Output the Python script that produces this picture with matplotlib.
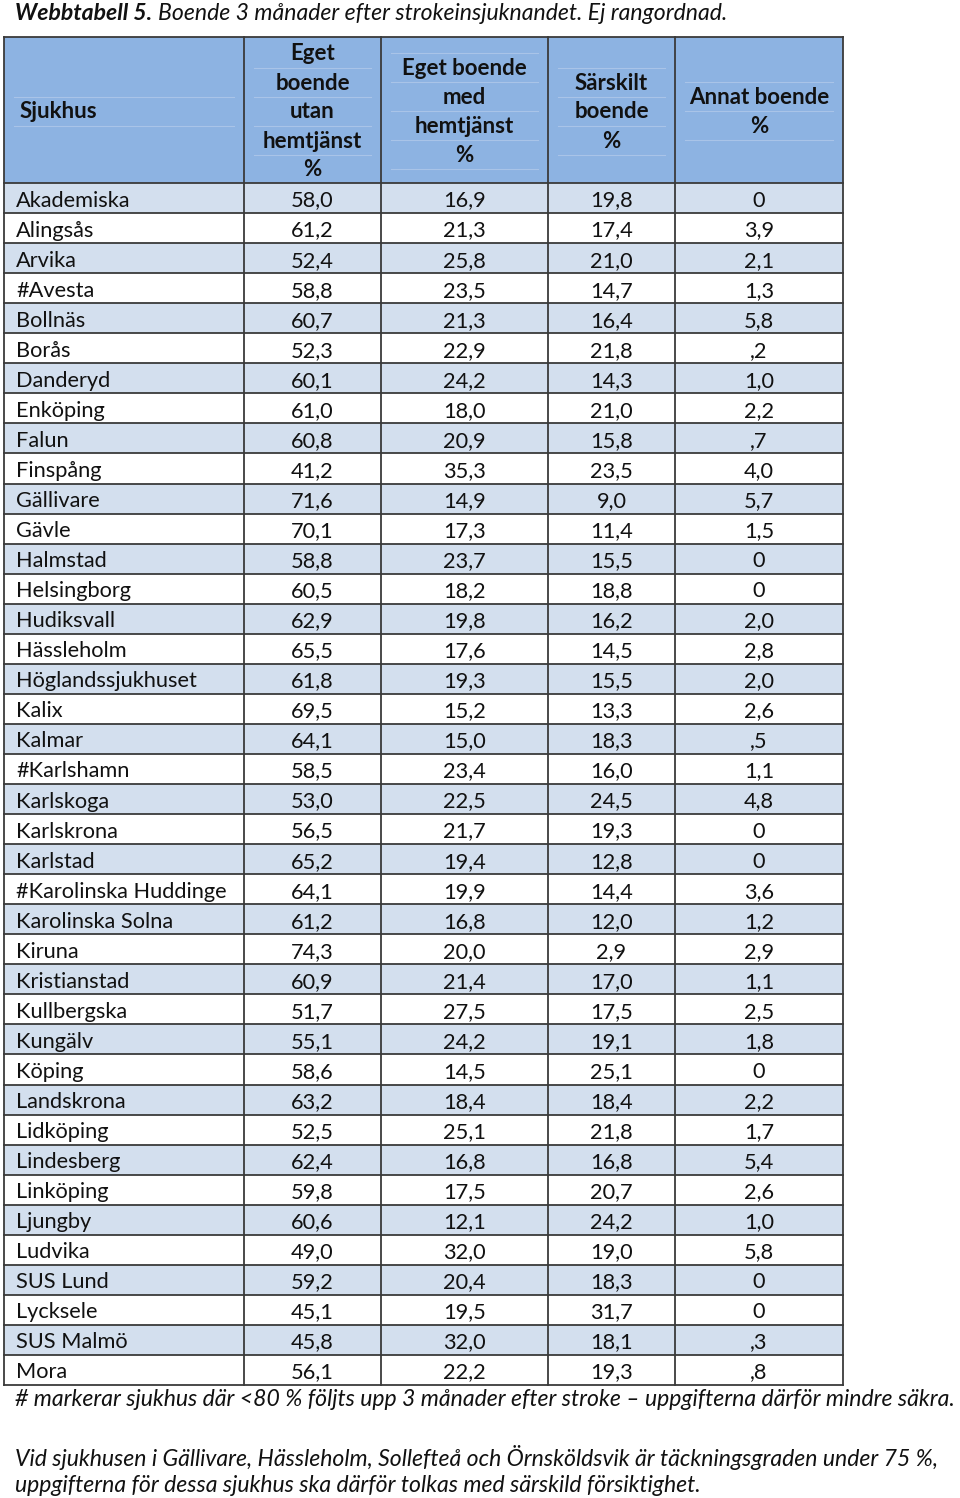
import matplotlib.pyplot as plt
from matplotlib.patches import Rectangle

sjukhus = ["Akademiska", "Alingsås", "Arvika", "#Avesta", "Bollnäs", "Borås", "Danderyd",
           "Enköping", "Falun", "Finspång", "Gällivare", "Gävle", "Halmstad", "Helsingborg",
           "Hudiksvall", "Hässleholm", "Höglandssjukhuset", "Kalix", "Kalmar", "#Karlshamn",
           "Karlskoga", "Karlskrona", "Karlstad", "#Karolinska Huddinge", "Karolinska Solna",
           "Kiruna", "Kristianstad", "Kullbergska", "Kungälv", "Köping", "Landskrona",
           "Lidköping", "Lindesberg", "Linköping", "Ljungby", "Ludvika", "SUS Lund",
           "Lycksele", "SUS Malmö", "Mora"]
eget_utan = [58.0, 61.2, 52.4, 58.8, 60.7, 52.3, 60.1, 61.0, 60.8, 41.2, 71.6, 70.1, 58.8, 60.5,
             62.9, 65.5, 61.8, 69.5, 64.1, 58.5, 53.0, 56.5, 65.2, 64.1, 61.2, 74.3, 60.9, 51.7,
             55.1, 58.6, 63.2, 52.5, 62.4, 59.8, 60.6, 49.0, 59.2, 45.1, 45.8, 56.1]
eget_med = [16.9, 21.3, 25.8, 23.5, 21.3, 22.9, 24.2, 18.0, 20.9, 35.3, 14.9, 17.3, 23.7, 18.2,
            19.8, 17.6, 19.3, 15.2, 15.0, 23.4, 22.5, 21.7, 19.4, 19.9, 16.8, 20.0, 21.4, 27.5,
            24.2, 14.5, 18.4, 25.1, 16.8, 17.5, 12.1, 32.0, 20.4, 19.5, 32.0, 22.2]
sarskilt = [19.8, 17.4, 21.0, 14.7, 16.4, 21.8, 14.3, 21.0, 15.8, 23.5, 9.0, 11.4, 15.5, 18.8,
            16.2, 14.5, 15.5, 13.3, 18.3, 16.0, 24.5, 19.3, 12.8, 14.4, 12.0, 2.9, 17.0, 17.5,
            19.1, 25.1, 18.4, 21.8, 16.8, 20.7, 24.2, 19.0, 18.3, 31.7, 18.1, 19.3]
annat = [0, 3.9, 2.1, 1.3, 5.8, 0.2, 1.0, 2.2, 0.7, 4.0, 5.7, 1.5, 0, 0,
         2.0, 2.8, 2.0, 2.6, 0.5, 1.1, 4.8, 0, 0, 3.6, 1.2, 2.9, 1.1, 2.5,
         1.8, 0, 2.2, 1.7, 5.4, 2.6, 1.0, 5.8, 0, 0, 0.3, 0.8]

headers = [["Sjukhus"],
           ["Eget", "boende", "utan", "hemtjänst", "%"],
           ["Eget boende", "med", "hemtjänst", "%"],
           ["Särskilt", "boende", "%"],
           ["Annat boende", "%"]]


def fmt(v):
    # swedish style, small numbers written without the leading zero
    if v == 0:
        return "0"
    s = f"{v:.1f}".replace(".", ",")
    if v < 1:
        s = s[1:]
    return s


plt.rcParams['font.family'] = ['Lato', 'DejaVu Sans']

fig = plt.figure(figsize=(9.6, 14.98), dpi=100)
ax = fig.add_axes([0, 0, 1, 1])
ax.set_xlim(0, 960)
ax.set_ylim(1498, 0)
ax.axis('off')

col_x = [4, 244, 381, 548, 675, 843]
head_top, head_bot = 37, 183
row_h = (1385 - head_bot) / len(sjukhus)
head_col = '#8DB3E2'
light_col = '#D3DFEE'
line_col = '#3a3a3a'
txt_col = '#111111'
fs = 15.7
fs_head = 16.0
fs_note = 16.6

# header
ax.add_patch(Rectangle((col_x[0], head_top), col_x[-1] - col_x[0], head_bot - head_top,
                       facecolor=head_col, edgecolor='none'))
mid = (head_top + head_bot) / 2 + 2
for j, lines in enumerate(headers):
    n = len(lines)
    for i, t in enumerate(lines):
        y = mid + (i - (n - 1) / 2) * 29
        if j == 0:
            ax.text(20, y, t, ha='left', va='center', fontsize=fs_head, fontweight='bold', color=txt_col)
        else:
            ax.text((col_x[j] + col_x[j + 1]) / 2, y, t, ha='center', va='center',
                    fontsize=fs_head, fontweight='bold', color=txt_col)
    # faint inner lines left over from the nested word table
    for i in range(n + 1):
        y = mid - 1 + (i - n / 2) * 29
        if head_top + 4 < y < head_bot - 4:
            ax.plot([col_x[j] + 10, col_x[j + 1] - 10], [y, y], color='#A9C4E8', lw=0.8, zorder=1)

# body rows
cols = [eget_utan, eget_med, sarskilt, annat]
for r, name in enumerate(sjukhus):
    y0 = head_bot + r * row_h
    if r % 2 == 0:
        ax.add_patch(Rectangle((col_x[0], y0), col_x[-1] - col_x[0], row_h,
                               facecolor=light_col, edgecolor='none'))
    yc = y0 + row_h / 2 + 2.5
    ax.text(16, yc, name, ha='left', va='center', fontsize=fs, color=txt_col)
    for j, vals in enumerate(cols):
        ax.text((col_x[j + 1] + col_x[j + 2]) / 2, yc, fmt(vals[r]), ha='center', va='center',
                fontsize=fs, color=txt_col)

# grid lines
bottom = head_bot + len(sjukhus) * row_h
for x in col_x:
    ax.plot([x, x], [head_top, bottom], color=line_col, lw=1.3, zorder=3)
ax.plot([col_x[0], col_x[-1]], [head_top, head_top], color=line_col, lw=1.3, zorder=3)
for r in range(len(sjukhus) + 1):
    y = head_bot + r * row_h
    ax.plot([col_x[0], col_x[-1]], [y, y], color=line_col, lw=1.3, zorder=3)

# title, bold part then italic part
renderer = fig.canvas.get_renderer()
t1 = ax.text(15, 13, "Webbtabell 5.", ha='left', va='center', fontsize=fs_note,
             fontweight='bold', style='italic', color=txt_col)
bb = t1.get_window_extent(renderer=renderer)
x_end = ax.transData.inverted().transform((bb.x1, bb.y0))[0]
ax.text(x_end + 6, 13, "Boende 3 månader efter strokeinsjuknandet. Ej rangordnad.",
        ha='left', va='center', fontsize=fs_note, style='italic', color=txt_col)

# footnotes
ax.text(15, 1400, "# markerar sjukhus där <80 % följts upp 3 månader efter stroke – uppgifterna därför mindre säkra.",
        ha='left', va='center', fontsize=fs_note, style='italic', color=txt_col)
ax.text(15, 1458, "Vid sjukhusen i Gällivare, Hässleholm, Sollefteå och Örnsköldsvik är täckningsgraden under 75 %,",
        ha='left', va='center', fontsize=fs_note, style='italic', color=txt_col)
ax.text(15, 1486, "uppgifterna för dessa sjukhus ska därför tolkas med särskild försiktighet.",
        ha='left', va='center', fontsize=fs_note, style='italic', color=txt_col)

fig.savefig("out.png", dpi=100)
